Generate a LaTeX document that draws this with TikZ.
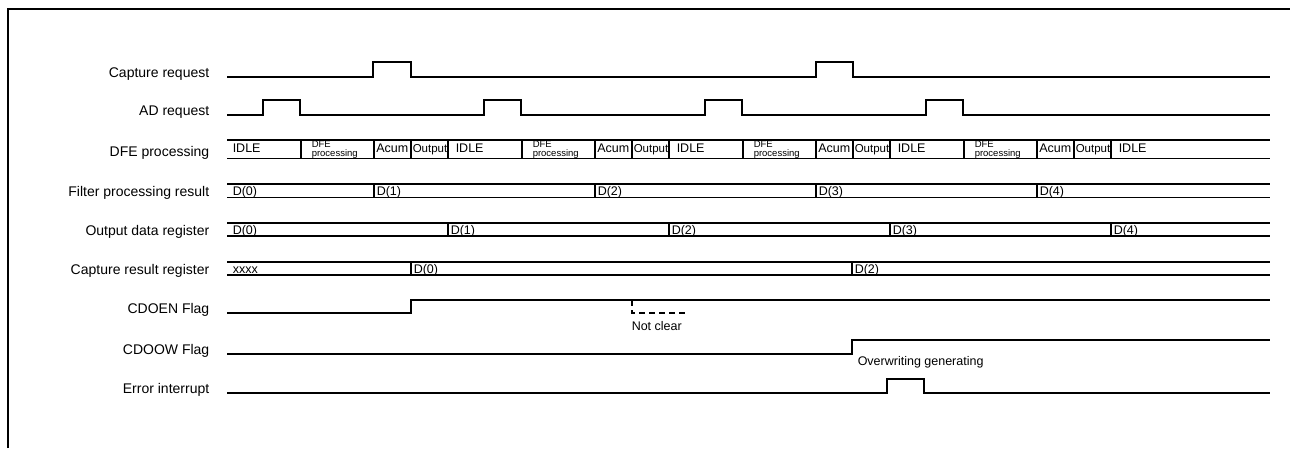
\documentclass[tikz,border=0pt]{standalone}
\usepackage{fontspec}
\setmainfont{Liberation Sans}
\usetikzlibrary{positioning}

\begin{document}
\begin{tikzpicture}[x=1pt, y=-1pt, line width=1.5pt,
  every node/.style={font=\fontsize{14}{15}\selectfont, inner sep=0pt},
  lbl/.style={anchor=base east},
  val/.style={anchor=base west, font=\fontsize{12.5}{13}\selectfont},
  small/.style={anchor=base west, font=\fontsize{9.5}{10}\selectfont},
  note/.style={anchor=west, font=\fontsize{12.5}{14}\selectfont}]
  \useasboundingbox (0,0) rectangle (1290,448);
  \draw[line width=2.2pt] (8,448) -- (8,9) -- (1290,9);
  % signal names
  \node[lbl] (capreq) at (210,77) {Capture request};
  \node[lbl] (adreq) at (210,115) {AD request};
  \node[lbl] (dfe) at (210,156) {DFE processing};
  \node[lbl] (filt) at (210,196) {Filter processing result};
  \node[lbl] (outreg) at (210,235) {Output data register};
  \node[lbl] (capres) at (210,274) {Capture result register};
  \node[lbl] (cdoen) at (210,313) {CDOEN Flag};
  \node[lbl] (cdoow) at (210,354) {CDOOW Flag};
  \node[lbl] (errint) at (210,393) {Error interrupt};
  % pulses
  \draw (227,77) -- (373,77) -- (373,62) -- (411,62) -- (411,77) -- (816,77)
    -- (816,62) -- (853,62) -- (853,77) -- (1270,77);
  \draw (227,115) \foreach \x in {263,484,705,926}{ -- (\x,115) -- (\x,100)
    -- (\x+37,100) -- (\x+37,115)} -- (1270,115);
  % buses
  \foreach \t/\b in {140/158.5, 184/197.5, 223/236, 262/275}
    \draw (227,\t) -- (1270,\t) (227,\b) -- (1270,\b);
  \foreach \k in {0,...,3} {
    \foreach \x in {301,374,411,448}
      \draw (\x+221*\k,140) -- (\x+221*\k,158.5);
    \draw (374+221*\k,184) -- (374+221*\k,197.5);
    \draw (448+221*\k,223) -- (448+221*\k,236);
    \node[small] (dfea\k) at (311+221*\k,147.5) {DFE};
    \node[small] (dfeb\k) at (311+221*\k,156) {processing};
    \node[val] (acum\k) at (375.5+221*\k,152.5) {Acum};
    \node[val, font=\fontsize{11.5}{13}\selectfont] (out\k) at (412+221*\k,152.5) {Output};
    \node[val] (idle\k) at (455+221*\k,152.5) {IDLE};
    \pgfmathtruncatemacro\n{\k+1}
    \node[val] (filt\n) at (376+221*\k,195.5) {D(\n)};
    \node[val] (outd\n) at (450+221*\k,234) {D(\n)};
  }
  \node[val] (idlestart) at (232,152.5) {IDLE};
  \node[val] (filt0) at (232,195.5) {D(0)};
  \node[val] (outd0) at (232,234) {D(0)};
  \draw (411,262) -- (411,275) (852,262) -- (852,275);
  \node[val] (capx) at (232,273) {xxxx};
  \node[val] (capd0) at (413,273) {D(0)};
  \node[val] (capd2) at (854,273) {D(2)};
  % flags
  \draw (227,313) -- (411,313) -- (411,300) -- (1270,300);
  \draw[dashed, dash pattern=on 6pt off 4pt] (632,300) -- (632,313) -- (685,313);
  \node[note] (notclr) at (631,326) {Not clear};
  \draw (227,354) -- (852,354) -- (852,340) -- (1270,340);
  \node[note] (ovw) at (857,362) {Overwriting generating};
  \draw (227,393) -- (887,393) -- (887,379) -- (924,379) -- (924,393) -- (1270,393);
\end{tikzpicture}
\end{document}
